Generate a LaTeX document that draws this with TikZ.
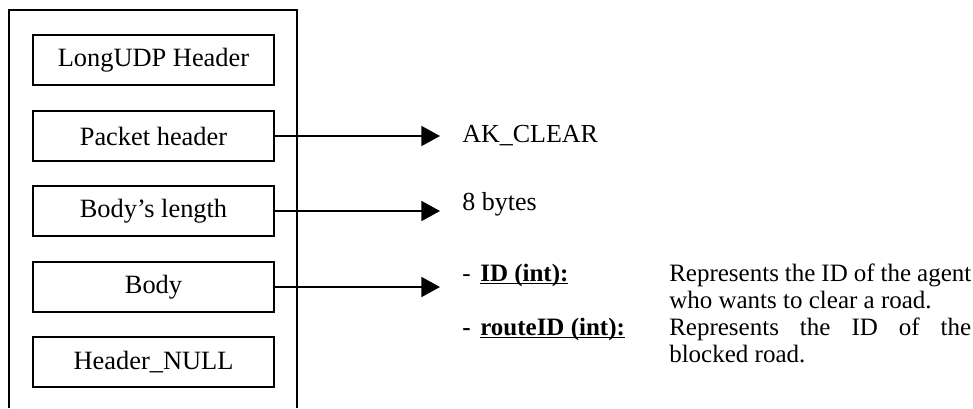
\documentclass[tikz,border=0pt]{standalone}
\usepackage{fontspec}
\setmainfont{Liberation Serif}
\usetikzlibrary{arrows.meta}
% underline drawn just under the baseline, through the descenders
\newcommand\fieldul[1]{\setbox0\hbox{#1}\rlap{\rule[-2.4pt]{\wd0}{1.1pt}}\box0}
\begin{document}
\begin{tikzpicture}[x=0.75pt,y=-0.75pt,
  field/.style={draw, line width=1.4pt, minimum width=180.75pt, minimum height=37.5pt,
                inner sep=0pt, font=\fontsize{19.8}{23}\selectfont},
  link/.style={line width=1.4pt, -{Triangle[length=14pt,width=15pt]}},
  val/.style={anchor=base west, inner sep=0pt, font=\fontsize{19.5}{23}\selectfont},
  desc/.style={anchor=base west, inner sep=0pt, font=\fontsize{18.75}{22}\selectfont}]
\useasboundingbox (0,0) rectangle (973,408);

% packet frame, open at the bottom
\draw[line width=1.4pt] (9,408) -- (9,10) -- (297,10) -- (297,408);

% packet fields
\node[field] (lh)   at (153.5,60)  {LongUDP Header};
\node[field] (ph)   at (153.5,136) {Packet header};
\node[field] (bl)   at (153.5,211) {Body's length};
\node[field] (body) at (153.5,287) {Body};
\node[field] (hn)   at (153.5,362) {Header\_NULL};

% arrow tips
\coordinate (tA) at (440,136);
\coordinate (tB) at (440,211);
\coordinate (tC) at (440,287);

\draw[link] (ph.east) -- (tA);
\draw[link] (bl.east) -- (tB);
\draw[link] (body.east) -- (tC);

% field values
\node[val] (vA) at (462,142) {AK\_CLEAR};
\node[val] (vB) at (462,210) {8 bytes};

% body contents
\node[desc] (d1) at (462,281) {-};
\node[desc] (k1) at (480,281) {\fieldul{\textbf{ID (int):}}};
\node[desc] (e1) at (669,281) {\makebox[226.5pt][s]{Represents the ID of the agent}};
\node[desc] (e1b) at (669,308) {who wants to clear a road.};
\node[desc] (d2) at (462,335) {\textbf{-}};
\node[desc] (k2) at (480,335) {\fieldul{\textbf{routeID (int):}}};
\node[desc] (e2) at (669,335) {\makebox[226.5pt][s]{Represents the ID of the}};
\node[desc] (e2b) at (669,362) {blocked road.};
\end{tikzpicture}
\end{document}
